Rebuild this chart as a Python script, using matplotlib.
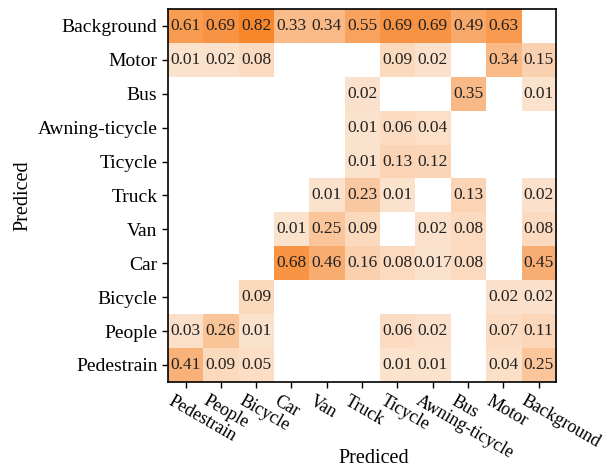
import numpy as np
import matplotlib
matplotlib.use('Agg')
import matplotlib.pyplot as plt
import matplotlib.transforms as mtransforms
from matplotlib.colors import LinearSegmentedColormap

plt.rcParams['font.family'] = ['Liberation Serif', 'DejaVu Serif']

# rows top -> bottom, columns left -> right
row_labels = ['Background', 'Motor', 'Bus', 'Awning-ticycle', 'Ticycle', 'Truck',
              'Van', 'Car', 'Bicycle', 'People', 'Pedestrain']
col_labels = ['Pedestrain', 'People', 'Bicycle', 'Car', 'Van', 'Truck',
              'Ticycle', 'Awning-ticycle', 'Bus', 'Motor', 'Background']

n = np.nan
background = [0.61, 0.69, 0.82, 0.33, 0.34, 0.55, 0.69, 0.69, 0.49, 0.63, n]
motor      = [0.01, 0.02, 0.08, n, n, n, 0.09, 0.02, n, 0.34, 0.15]
bus        = [n, n, n, n, n, 0.02, n, n, 0.35, n, 0.01]
awning     = [n, n, n, n, n, 0.01, 0.06, 0.04, n, n, n]
ticycle    = [n, n, n, n, n, 0.01, 0.13, 0.12, n, n, n]
truck      = [n, n, n, n, 0.01, 0.23, 0.01, n, 0.13, n, 0.02]
van        = [n, n, n, 0.01, 0.25, 0.09, n, 0.02, 0.08, n, 0.08]
car        = [n, n, n, 0.68, 0.46, 0.16, 0.08, 0.017, 0.08, n, 0.45]
bicycle    = [n, n, 0.09, n, n, n, n, n, n, 0.02, 0.02]
people     = [0.03, 0.26, 0.01, n, n, n, 0.06, 0.02, n, 0.07, 0.11]
pedestrain = [0.41, 0.09, 0.05, n, n, n, 0.01, 0.01, n, 0.04, 0.25]

matrix = np.array([background, motor, bus, awning, ticycle, truck,
                   van, car, bicycle, people, pedestrain])

cmap = LinearSegmentedColormap.from_list('peach', ['#fce4d0', '#f9b27a', '#f8862a'])
cmap.set_bad('white')

fig = plt.figure(figsize=(6.04, 4.72), dpi=100)
ax = fig.add_axes([0.278, 0.191, 0.643, 0.790])
ax.imshow(np.ma.masked_invalid(matrix), cmap=cmap, vmin=0, vmax=0.82,
          aspect='auto', interpolation='nearest')

for i in range(matrix.shape[0]):
    for j in range(matrix.shape[1]):
        v = matrix[i, j]
        if not np.isnan(v):
            ax.text(j, i, '{:g}'.format(v), ha='center', va='center',
                    fontsize=12.5, color='#222222')

ax.set_xticks(range(len(col_labels)))
ax.set_yticks(range(len(row_labels)))
ax.set_xticklabels(col_labels, rotation=-30, ha='left', fontsize=13)
ax.set_yticklabels(row_labels, fontsize=14)
ax.tick_params(direction='out', length=4.5, width=1, pad=3)

# shift rotated labels a bit to the left, like the original
offset = mtransforms.ScaledTranslation(-0.20, 0, fig.dpi_scale_trans)
for lab in ax.get_xticklabels():
    lab.set_transform(lab.get_transform() + offset)

for s in ax.spines.values():
    s.set_linewidth(1.2)

ax.set_xlabel('Prediced', fontsize=14.5)
ax.set_ylabel('Prediced', fontsize=14.5)
ax.xaxis.set_label_coords(0.53, -0.18)
ax.yaxis.set_label_coords(-0.35, 0.5)

fig.savefig('out.png', dpi=100)
